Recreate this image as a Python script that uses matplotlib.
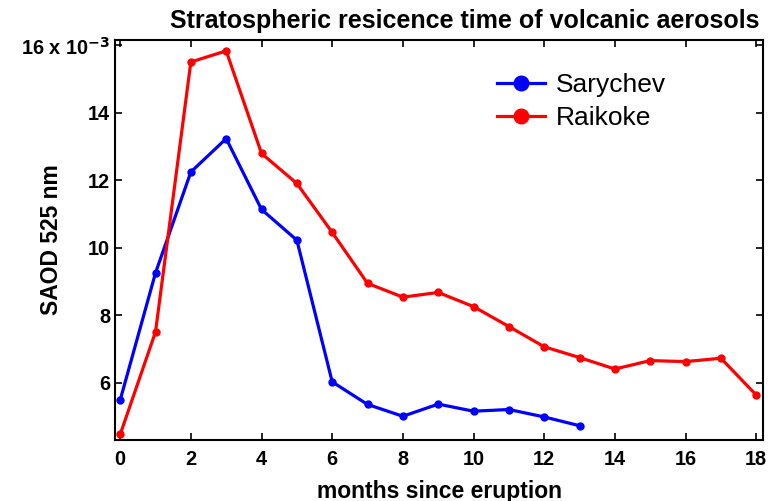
import matplotlib
matplotlib.use("Agg")
import matplotlib.pyplot as plt
from matplotlib.ticker import FixedLocator, FuncFormatter

plt.rcParams['font.family'] = ['Liberation Sans', 'DejaVu Sans']

months_sarychev = list(range(0, 14))
sarychev = [5.49, 9.26, 12.25, 13.24, 11.14, 10.23, 6.03, 5.36, 5.01, 5.37, 5.16, 5.21, 4.99, 4.73]
months_raikoke = list(range(0, 19))
raikoke = [4.47, 7.51, 15.51, 15.84, 12.80, 11.91, 10.46, 8.95, 8.54, 8.68, 8.26, 7.67,
           7.07, 6.75, 6.41, 6.66, 6.63, 6.73, 5.64]
scale = 1e-3
xticks = list(range(0, 19, 2))
yticks = [6, 8, 10, 12, 14, 16]

fig = plt.figure(figsize=(7.71, 5.01), dpi=100)
ax = fig.add_axes([0.149, 0.122, 0.841, 0.798])

ax.plot(months_sarychev, [v * scale for v in sarychev], color=(0, 0, 1), lw=2.3,
        marker='o', ms=5, label='Sarychev')
ax.plot(months_raikoke, [v * scale for v in raikoke], color=(1, 0, 0), lw=2.3,
        marker='o', ms=5, label='Raikoke')

ax.set_xlim(-0.15, 18.2)
ax.set_ylim(4.31e-3, 16.16e-3)
ax.xaxis.set_major_locator(FixedLocator(xticks))
ax.yaxis.set_major_locator(FixedLocator([t * scale for t in yticks]))

def yfmt(v, pos):
    n = round(v / scale)
    if n == 16:
        return r"16 x 10$^{\mathbf{-3}}$"
    return str(n)

ax.yaxis.set_major_formatter(FuncFormatter(yfmt))
ax.tick_params(direction='in', length=5, width=1.2, top=True, right=True,
               labelsize=14.4)
ax.tick_params(axis='x', pad=7)
ax.tick_params(axis='y', pad=3.5)
for lab in ax.get_xticklabels() + ax.get_yticklabels():
    lab.set_fontweight('bold')
for sp in ax.spines.values():
    sp.set_linewidth(1.5)

ax.set_title("Stratospheric resicence time of volcanic aerosols", fontsize=18,
             fontweight='bold', pad=8.5, x=0.54)
ax.set_xlabel("months since eruption", fontsize=16.5, fontweight='bold')
ax.xaxis.set_label_coords(0.5, -0.10)
ax.set_ylabel("SAOD 525 nm", fontsize=16.5, fontweight='bold')
ax.yaxis.set_label_coords(-0.097, 0.5)
ax.yaxis.label.set_verticalalignment('center')

leg = ax.legend(loc='upper left', bbox_to_anchor=(0.59, 0.9175), frameon=False,
                fontsize=19, handlelength=1.8, labelspacing=0.35, handletextpad=0.42,
                borderpad=0, borderaxespad=0, markerscale=2.1)

fig.savefig("out.png", dpi=100)
